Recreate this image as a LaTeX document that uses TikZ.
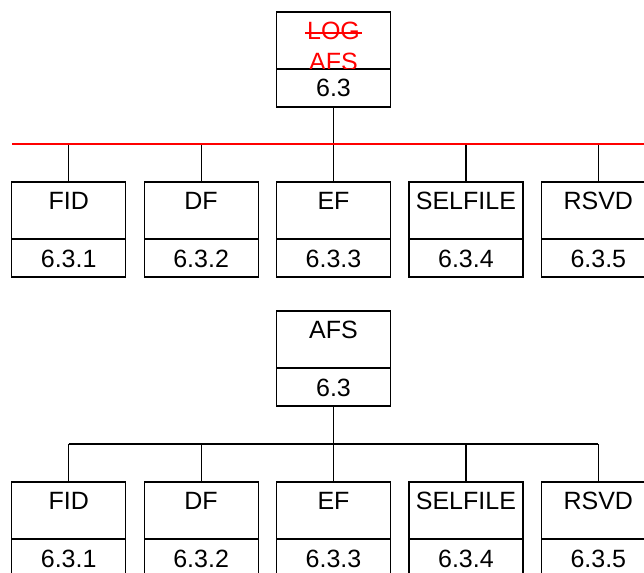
\documentclass[tikz,border=0pt]{standalone}
\usepackage{fontspec}
\setmainfont{Liberation Sans}
\usetikzlibrary{positioning}
\tikzset{
  namebox/.style={draw,line width=1.2pt,outer sep=0pt,inner sep=0pt,
    minimum width=114pt,minimum height=57pt,text height=27pt,text depth=30pt},
  numbox/.style={draw,line width=1.2pt,outer sep=0pt,inner sep=0pt,
    minimum width=114pt,minimum height=38pt,text height=28pt,text depth=10pt},
  link/.style={line width=1.2pt}
}
\begin{document}
\begin{tikzpicture}[x=1pt,y=-1pt,font=\fontsize{25}{30}\selectfont]
\useasboundingbox (0,0) rectangle (644,572);
\coordinate (redl) at (12,144);
\coordinate (redr) at (644,144);
\coordinate (bar) at (0,444);
\node[namebox,anchor=north] (logname) at (333.5,12) {};
\node[numbox,below=0pt of logname] (lognum) {6.3};
\begin{scope}
\clip (logname.north west) rectangle (logname.south east);
\node[red,anchor=base,inner sep=0pt] (logtxt) at ([yshift=-28pt]logname.north) {LOG};
\node[red,anchor=base,inner sep=0pt] (afstxt) at ([yshift=-58.5pt]logname.north) {AFS};
\end{scope}
\draw[red,line width=1.8pt] ([shift={(-2pt,7pt)}]logtxt.base west) -- ([shift={(2pt,7pt)}]logtxt.base east);
\foreach \nm/\no [count=\i] in {FID/6.3.1,DF/6.3.2,EF/6.3.3,SELFILE/6.3.4,RSVD/6.3.5} {
  \node[namebox,anchor=north] (top\i) at ({333.5+(\i-3)*132.4},182) {\nm};
  \node[numbox,below=0pt of top\i] (topno\i) {\no};
  \draw[link] (top\i.north) -- (top\i.north |- redl);
}
\draw[link] (lognum.south) -- (top3.north);
\draw[red,line width=1.5pt] (redl) -- (redr);
\node[namebox,anchor=north] (afsname) at (333.5,311) {AFS};
\node[numbox,below=0pt of afsname] (afsnum) {6.3};
\foreach \nm/\no [count=\i] in {FID/6.3.1,DF/6.3.2,EF/6.3.3,SELFILE/6.3.4,RSVD/6.3.5} {
  \node[namebox,anchor=north] (bot\i) at ({333.5+(\i-3)*132.4},482) {\nm};
  \node[numbox,below=0pt of bot\i] (botno\i) {\no};
  \draw[link] (bot\i.north) -- (bot\i.north |- bar);
}
\draw[link] (bot1.north |- bar) -- (bot5.north |- bar);
\draw[link] (afsnum.south) -- (bot3.north);
\end{tikzpicture}
\end{document}
